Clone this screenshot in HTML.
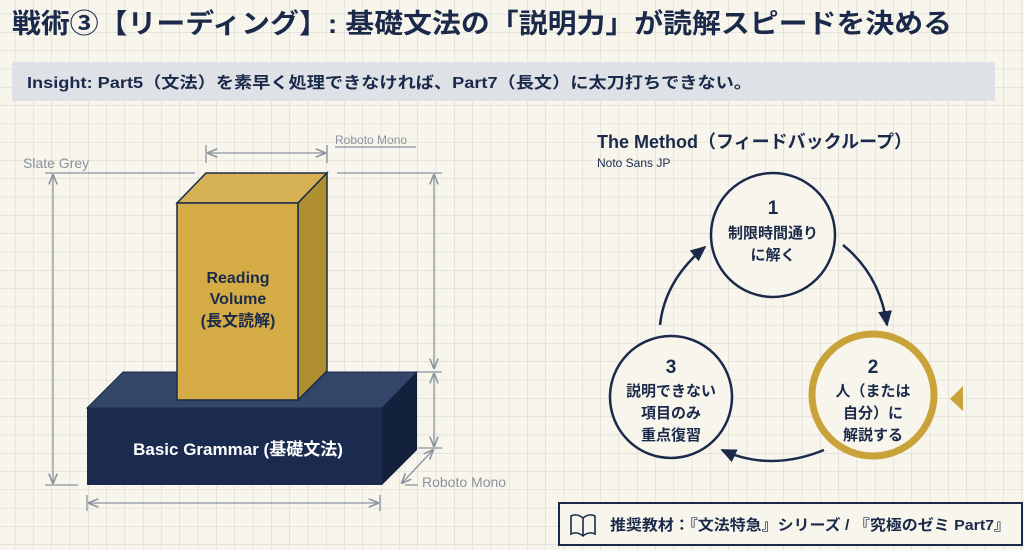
<!DOCTYPE html>
<html><head><meta charset="utf-8"><style>
html,body{margin:0;padding:0;width:1024px;height:550px;overflow:hidden;background:#f8f6ec}
svg{display:block}
text{font-family:"Liberation Sans","Noto Sans CJK JP",sans-serif}
</style></head><body>
<svg width="1024" height="550" viewBox="0 0 1024 550" xmlns="http://www.w3.org/2000/svg">
<defs>
<pattern id="g" width="18.3" height="18.3" patternUnits="userSpaceOnUse" x="-3" y="-4">
<path d="M18.3 0V18.3M0 18.3H18.3" stroke="#d2d2cc" stroke-width="1" fill="none"/>
</pattern>
<marker id="a" viewBox="0 0 10 10" refX="8" refY="5" markerWidth="7" markerHeight="7" orient="auto-start-reverse"><path d="M0 1L9 5L0 9Z" fill="#1b2a4a"/></marker>
<marker id="d" viewBox="0 0 10 10" refX="9" refY="5" markerWidth="8" markerHeight="8" orient="auto-start-reverse"><path d="M0 1L10 5L0 9" fill="none" stroke="#8a939e" stroke-width="1.5"/></marker>
</defs>
<rect width="1024" height="550" fill="url(#g)"/>
<text x="12" y="33" font-size="27" font-weight="bold" fill="#1b2a4a" textLength="940" lengthAdjust="spacingAndGlyphs">戦術③【リーディング】: 基礎文法の「説明力」が読解スピードを決める</text>
<rect x="12" y="62" width="983" height="39" fill="#dee1e6"/>
<text x="27" y="88" font-size="16" font-weight="bold" fill="#1b2a4a" textLength="725" lengthAdjust="spacingAndGlyphs">Insight: Part5（文法）を素早く処理できなければ、Part7（長文）に太刀打ちできない。</text>

<g stroke="#8a939e" stroke-width="1.3" fill="none">
<path d="M45 173H195M45 485H78M337 173H442M405 485H418M418 372H442M418 448H442"/>
<line x1="53" y1="175" x2="53" y2="483" marker-start="url(#d)" marker-end="url(#d)"/>
<line x1="434" y1="175" x2="434" y2="368" marker-start="url(#d)" marker-end="url(#d)"/>
<line x1="434" y1="374" x2="434" y2="446" marker-start="url(#d)" marker-end="url(#d)"/>
<line x1="208" y1="153" x2="325" y2="153" marker-start="url(#d)" marker-end="url(#d)"/>
<path d="M206 145V163M327 145V163M335 147H416M87 495V511M380 495V511"/>
<line x1="89" y1="503" x2="378" y2="503" marker-start="url(#d)" marker-end="url(#d)"/>
<line x1="433" y1="450" x2="402" y2="483" marker-start="url(#d)" marker-end="url(#d)"/>
</g>
<text x="23" y="168" font-size="14" fill="#8a939e">Slate Grey</text>
<text x="335" y="144" font-size="12" fill="#8a939e" font-family="Liberation Mono,monospace">Roboto Mono</text>
<text x="422" y="487" font-size="14" fill="#8a939e">Roboto Mono</text>

<polygon points="87,408 123,372 417,372 382,408" fill="#33466a" stroke="#1b2a4a" stroke-width="1"/>
<polygon points="382,408 417,372 417,450 382,485" fill="#14213d"/>
<rect x="87" y="408" width="295" height="77" fill="#1b2a4f"/>
<text x="238" y="455" font-size="17" font-weight="bold" fill="#fff" text-anchor="middle">Basic Grammar (基礎文法)</text>
<polygon points="177,203 206,173 327,173 298,203" fill="#d6b154" stroke="#1b2a4a" stroke-width="1.5"/>
<polygon points="298,203 327,173 327,371 298,400" fill="#b08f30" stroke="#1b2a4a" stroke-width="1.5"/>
<rect x="177" y="203" width="121" height="197" fill="#d4ab45" stroke="#1b2a4a" stroke-width="1.5"/>
<g font-size="16" font-weight="bold" fill="#1b2a4a" text-anchor="middle">
<text x="238" y="283">Reading</text><text x="238" y="304">Volume</text><text x="238" y="326">(長文読解)</text></g>

<text x="597" y="148" font-size="18" font-weight="bold" fill="#1b2a4a">The Method（フィードバックループ）</text>
<text x="597" y="167" font-size="12" fill="#1b2a4a">Noto Sans JP</text>
<g fill="none" stroke="#1b2a4a" stroke-width="2.5">
<path d="M843 245Q880 275 887 325" marker-end="url(#a)"/>
<path d="M824 450Q770 472 722 450" marker-end="url(#a)"/>
<path d="M660 325Q665 280 705 247" marker-end="url(#a)"/>
</g>
<circle cx="773" cy="235" r="62" fill="#f8f6ec" stroke="#1b2a4a" stroke-width="2.5"/>
<circle cx="873" cy="395" r="61" fill="#f8f6ec" stroke="#c9a23a" stroke-width="7"/>
<circle cx="671" cy="397" r="61" fill="#f8f6ec" stroke="#1b2a4a" stroke-width="2.5"/>
<polygon points="950,399 963,386 963,411" fill="#c9a23a"/>
<g font-size="15" font-weight="bold" fill="#1b2a4a" text-anchor="middle">
<text x="773" y="214" font-size="19">1</text><text x="773" y="238">制限時間通り</text><text x="773" y="260">に解く</text>
<text x="873" y="373" font-size="19">2</text><text x="873" y="396">人（または</text><text x="873" y="418">自分）に</text><text x="873" y="440">解説する</text>
<text x="671" y="373" font-size="19">3</text><text x="671" y="396">説明できない</text><text x="671" y="418">項目のみ</text><text x="671" y="440">重点復習</text>
</g>
<rect x="559" y="503" width="463" height="42" fill="#f8f6ec" stroke="#1b2a4a" stroke-width="2"/>
<g fill="none" stroke="#1b2a4a" stroke-width="1.6">
<path d="M571 516V534Q577 531 583 536Q589 531 595 534V516Q589 513 583 518Q577 513 571 516ZM583 518V536"/>
</g>
<text x="610" y="530" font-size="15" font-weight="bold" fill="#1b2a4a" textLength="400" lengthAdjust="spacingAndGlyphs">推奨教材：『文法特急』シリーズ / 『究極のゼミ Part7』</text>
</svg>
</body></html>
